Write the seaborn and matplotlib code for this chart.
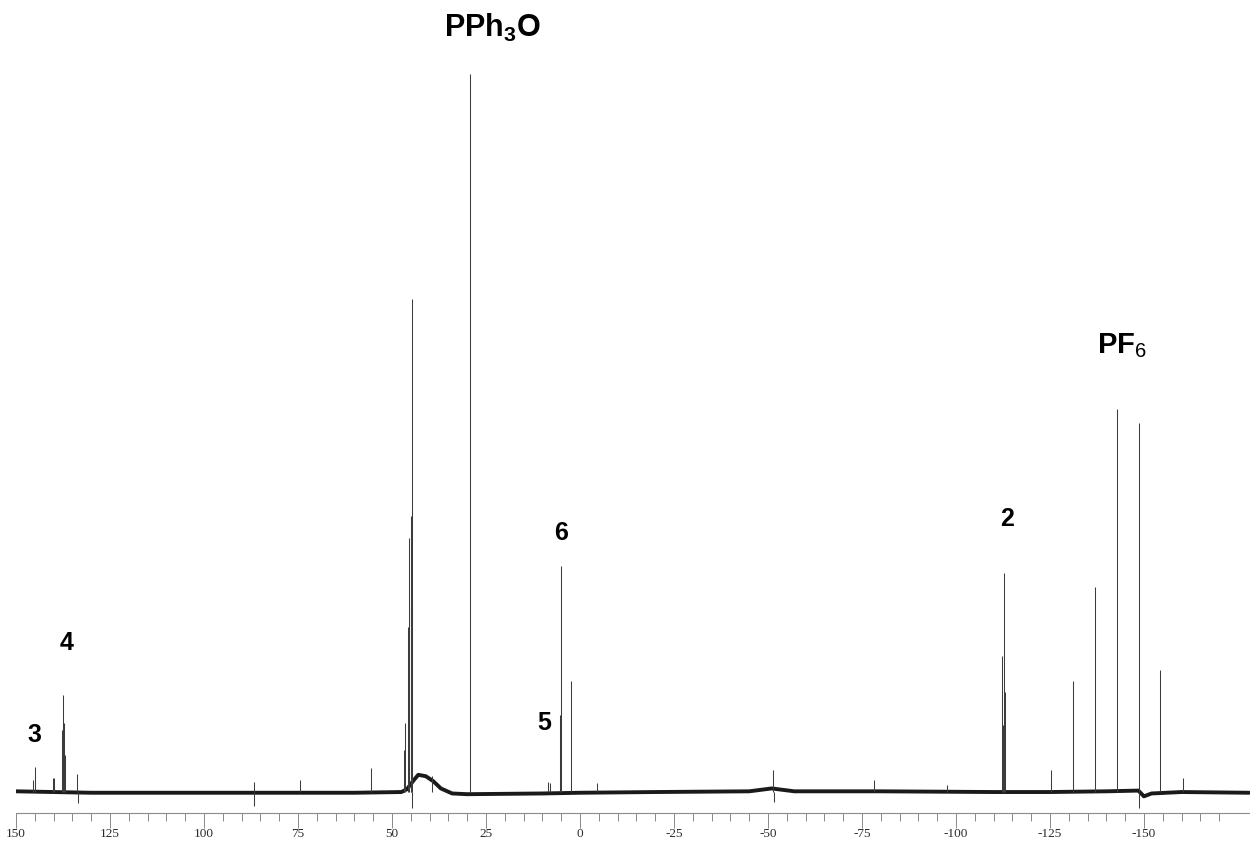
import matplotlib
matplotlib.use("Agg")
import matplotlib.pyplot as plt
from matplotlib.ticker import FixedLocator
import pandas as pd
import seaborn as sns

# 31P NMR spectrum (intensity in % of the PPh3O line)

# baseline (noise band centre), ppm and level
base_ppm = [150, 140, 130, 100, 60, 47.5, 46.0, 44.3, 43.0, 41.0, 39.0, 37.0, 34.0, 30, 10, 0,
            -20, -45, -51, -57, -80, -110, -125, -140, -148.5, -150, -152, -160, -178]
base_lvl = [0.1, 0.0, -0.1, -0.1, -0.1, 0.0, 0.4, 1.6, 2.4, 2.2, 1.5, 0.5, -0.2, -0.3, -0.2, -0.1,
            0.0, 0.1, 0.5, 0.1, 0.1, 0.0, 0.0, 0.1, 0.2, -0.6, -0.2, 0.0, -0.1]

# resonance lines, ppm and height
peak_ppm = [145.4, 144.95, 140.1, 139.8, 137.85, 137.4, 137.15, 136.9, 133.7, 133.6,
            86.7, 86.6, 74.5, 55.7,
            46.7, 46.45, 45.75, 45.4, 45.05, 44.9, 44.75, 44.6, 39.4,
            29.26, 8.4, 7.9, 5.32, 5.05, 2.3, -4.4,
            -51.4, -51.5, -78.3, -97.6,
            -112.3, -112.6, -112.85, -113.1,
            -125.4, -131.1, -137.0, -142.8, -148.6, -148.7, -154.3, -160.3]
peak_h = [1.7, 3.5, 1.95, 1.9, 8.7, 13.5, 9.6, 5.2, 2.5, -1.5,
          1.4, -2.0, 1.7, 3.3,
          5.9, 9.6, 23.0, 35.4, 26.0, 38.4, 68.7, -2.2, 2.3,
          100.0, 1.4, 1.2, 10.7, 31.5, 15.5, 1.3,
          3.1, -1.4, 1.7, 1.0,
          19.0, 9.3, 30.5, 14.0,
          3.1, 15.5, 28.6, 53.3, 51.4, -2.2, 17.0, 2.0]

# annotations: text, ppm, baseline height, size
label_txt = [r"$\mathbf{PPh}_{\mathbf{3}}\mathbf{O}$", r"$\mathbf{PF}_{\mathrm{6}}$",
             r"$\mathbf{2}$", r"$\mathbf{3}$", r"$\mathbf{4}$", r"$\mathbf{5}$", r"$\mathbf{6}$"]
label_ppm = [23.4, -144.1, -113.8, 145.2, 136.4, 9.4, 4.8]
label_h = [105.2, 61.1, 37.0, 7.0, 19.8, 8.6, 35.1]
label_size = [22, 21, 18, 18, 18, 18, 18]

major_ticks = list(range(150, -151, -25))
minor_ticks = list(range(150, -171, -5))

sns.set_theme(style="white")
plt.rcParams["mathtext.fontset"] = "custom"
plt.rcParams["mathtext.rm"] = "Liberation Sans"
plt.rcParams["mathtext.bf"] = "Liberation Sans:bold"
plt.rcParams["axes.unicode_minus"] = False

fig = plt.figure(figsize=(12.5, 8.41), dpi=100)
ax = fig.add_axes([16 / 1250, 28 / 841, 1 - 16 / 1250, 813 / 841])

base = pd.DataFrame({"ppm": base_ppm, "lvl": base_lvl})
sns.lineplot(data=base, x="ppm", y="lvl", sort=False, estimator=None,
             color="#1a1a1a", linewidth=2.8, ax=ax)
ax.vlines(peak_ppm, 0, peak_h, color="#3c3c3c", linewidth=0.75)

for t, p, h, s in zip(label_txt, label_ppm, label_h, label_size):
    ax.text(p, h, t, ha="center", va="baseline", fontsize=s, color="black")

ax.set_xlim(150, -178.2)
ax.set_ylim(-2.92, 110.3)
ax.set_yticks([])
ax.set_xlabel("")
ax.set_ylabel("")
for side in ["left", "top", "right"]:
    ax.spines[side].set_visible(False)
ax.spines["bottom"].set_color("#8a8a8a")
ax.spines["bottom"].set_linewidth(0.8)
ax.spines["bottom"].set_bounds(150, -178.2)

ax.xaxis.set_major_locator(FixedLocator(major_ticks))
ax.xaxis.set_minor_locator(FixedLocator(minor_ticks))
ax.set_xticklabels([str(v) for v in major_ticks], family="Liberation Serif", fontsize=9.5, color="#2a2a2a")
ax.tick_params(axis="x", which="major", bottom=True, direction="out", length=10.8, width=0.7,
               color="#8a8a8a", pad=0)
ax.tick_params(axis="x", which="minor", bottom=True, direction="out", length=5.8, width=0.7,
               color="#8a8a8a")

fig.savefig("out.png", dpi=100, facecolor="white")
